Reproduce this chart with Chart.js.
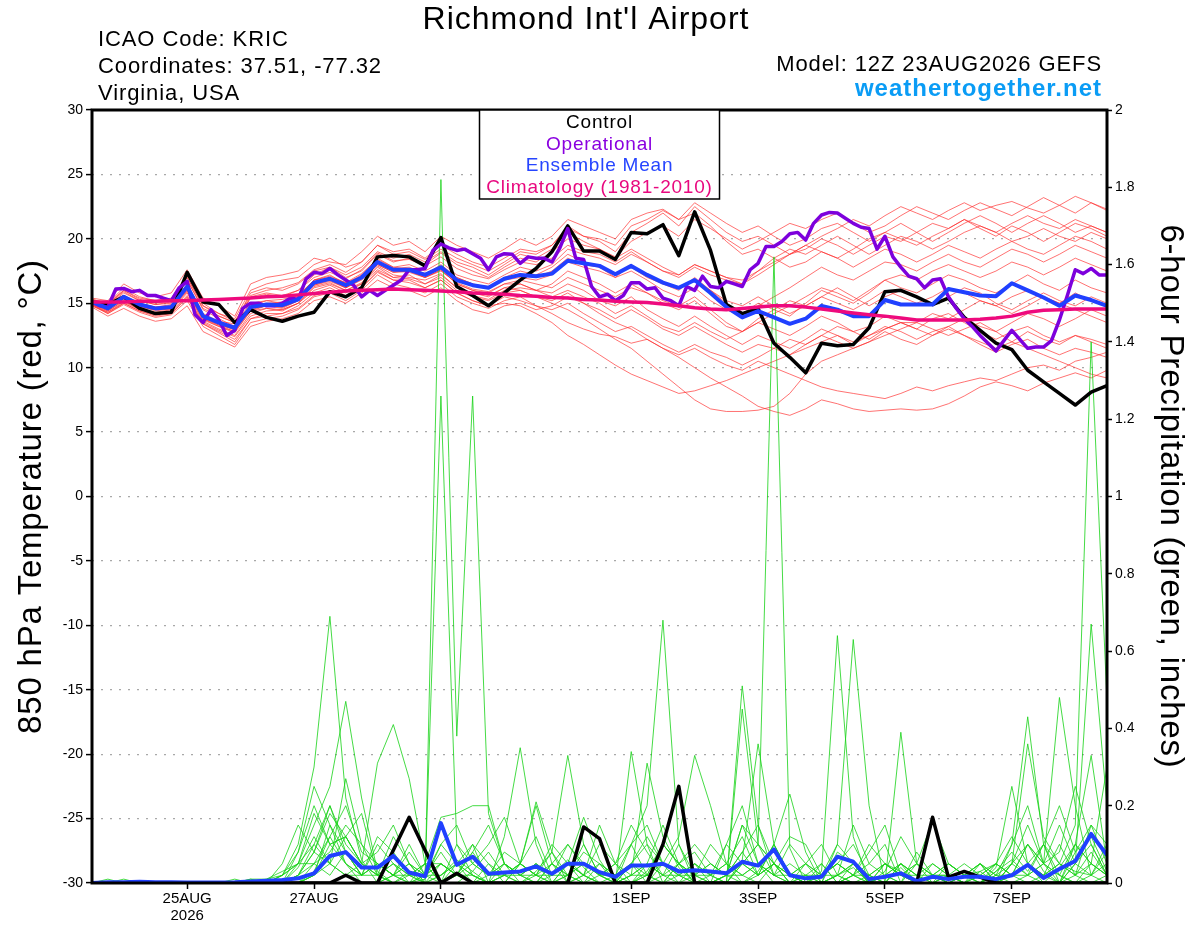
<!DOCTYPE html>
<html>
<head>
<meta charset="utf-8">
<title>Richmond Int'l Airport - GEFS</title>
<script src="https://cdn.jsdelivr.net/npm/chart.js@4.4.1/dist/chart.umd.min.js"></script>
<style>
    html, body { margin: 0; padding: 0; background: #fff; }
    #wrap { width: 1200px; height: 927px; }
</style>
</head>
<body>
<div id="wrap"><canvas id="gefs-chart" width="1200" height="927"></canvas></div>
<script>
"use strict";

// Forecast lead time (hours after 12Z 23AUG2026), 6-hourly
const leadHours = [0, 6, 12, 18, 24, 30, 36, 42, 48, 54, 60, 66, 72, 78, 84, 90, 96, 102, 108, 114, 120, 126,
    132, 138, 144, 150, 156, 162, 168, 174, 180, 186, 192, 198, 204, 210, 216, 222, 228, 234, 240, 246, 252,
    258, 264, 270, 276, 282, 288, 294, 300, 306, 312, 318, 324, 330, 336, 342, 348, 354, 360, 366, 372, 378, 384];

// Date ticks on the time axis
const dateTickHours = [36, 84, 132, 204, 252, 300, 348];
const dateTickLabels = ['25AUG', '27AUG', '29AUG', '1SEP', '3SEP', '5SEP', '7SEP'];
const yearLabel = '2026';

// 850 hPa temperature (C)
const controlTemp = [
    15.1, 14.9, 15.5, 14.6, 14.2, 14.3, 17.4, 15.1, 14.9, 13.5, 14.5, 13.9, 13.6,
    14.0, 14.3, 15.9, 15.5, 16.2, 18.6, 18.7, 18.6, 17.9, 20.1, 16.3, 15.6, 14.8,
    15.8, 16.8, 17.7, 19.0, 21.0, 19.05, 19.05, 18.4, 20.5, 20.4, 21.1, 18.7, 22.1,
    19.1, 14.9, 14.2, 14.6, 11.9, 10.8, 9.6, 11.9, 11.7, 11.8, 13.1, 15.9, 16.0,
    15.5, 14.9, 15.4, 13.9, 12.9, 11.9, 11.4, 9.8, 8.9, 8.0, 7.1, 8.1, 8.6
];

// operational run is 3-hourly
const operationalTemp = [
    15.1, 14.8, 14.7, 16.1, 16.15, 15.9, 16.0, 15.6,
    15.6, 15.4, 15.2, 16.2, 16.7, 14.1, 13.5, 14.5,
    13.7, 12.5, 12.9, 14.6, 15.0, 15.0, 14.8, 14.8,
    15.0, 15.4, 15.3, 16.9, 17.4, 17.3, 17.7, 17.2,
    16.8, 16.4, 15.5, 16.0, 15.6, 16.0, 16.4, 16.8,
    17.6, 17.6, 17.7, 19.1, 19.6, 19.3, 19.1, 19.2,
    18.85, 18.5, 17.6, 18.6, 18.85, 18.8, 18.1, 18.6,
    18.5, 18.5, 18.2, 19.3, 20.8, 18.5, 18.4, 16.3,
    15.5, 15.7, 15.2, 15.6, 16.6, 16.6, 16.1, 16.2,
    15.4, 15.2, 14.8, 16.3, 16.0, 17.1, 16.3, 16.2,
    16.7, 16.5, 16.3, 17.6, 18.1, 19.4, 19.4, 19.8,
    20.4, 20.5, 19.9, 21.2, 21.85, 22.05, 22.0, 21.6,
    21.2, 20.9, 20.8, 19.2, 20.2, 18.6, 17.8, 17.1,
    16.9, 16.2, 16.8, 16.9, 15.5, 14.6, 13.8, 13.2,
    12.5, 11.9, 11.3, 12.1, 12.9, 12.2, 11.5, 11.6,
    11.6, 12.1, 13.7, 15.6, 17.6, 17.3, 17.7, 17.2,
    17.2
];

const meanTemp = [
    15.1, 14.6, 15.5, 14.9, 14.6, 14.7, 16.3, 14.0, 13.5, 13.1, 14.7, 14.9, 14.85,
    15.3, 16.6, 16.9, 16.4, 17.0, 18.2, 17.6, 17.6, 17.2, 17.8, 16.8, 16.4, 16.2,
    16.9, 17.2, 17.1, 17.3, 18.3, 18.1, 17.9, 17.25, 17.9, 17.2, 16.6, 16.2, 16.8,
    15.8, 14.7, 13.9, 14.4, 13.9, 13.4, 13.8, 14.8, 14.5, 14.0, 14.0, 15.25, 14.9,
    14.9, 14.9, 16.1, 15.85, 15.6, 15.55, 16.55, 16.0, 15.45, 14.8, 15.6, 15.25, 14.8
];

const climoTemp = [
    15.1, 15.1, 15.1, 15.15, 15.15, 15.2, 15.2, 15.25, 15.3, 15.35, 15.4, 15.5, 15.55,
    15.65, 15.75, 15.85, 15.95, 16.0, 16.05, 16.1, 16.05, 16.0, 15.95, 15.9, 15.8, 15.75,
    15.7, 15.6, 15.55, 15.45, 15.4, 15.3, 15.25, 15.15, 15.1, 15.05, 14.95, 14.8, 14.65,
    14.55, 14.5, 14.6, 14.7, 14.8, 14.8, 14.7, 14.55, 14.4, 14.25, 14.1, 14.0, 13.85,
    13.7, 13.7, 13.7, 13.7, 13.75, 13.85, 14.0, 14.3, 14.45, 14.5, 14.55, 14.55, 14.55
];

// ensemble members
const memberTemps = [
    [15.2, 14.8, 15.8, 15.2, 14.9, 15.0, 16.8, 14.5, 13.8, 13.2, 15.5, 15.8, 15.6,
     16.0, 17.2, 17.8, 17.0, 17.5, 18.8, 18.2, 18.5, 18.0, 18.9, 18.0, 17.5, 17.0,
     17.8, 18.5, 18.2, 19.0, 20.0, 19.5, 19.2, 18.6, 19.8, 20.5, 21.0, 20.2, 21.5,
     20.8, 20.0, 19.2, 19.8, 20.5, 21.2, 20.8, 21.5, 22.0, 21.2, 20.5, 21.0, 21.8,
     22.5, 22.0, 21.5, 22.2, 22.8, 22.3, 21.8, 22.5, 23.2, 22.6, 22.0, 22.8, 22.3],
    [15.0, 14.4, 15.2, 14.6, 14.2, 14.4, 15.8, 13.6, 13.0, 12.5, 14.2, 14.6, 14.4,
     15.0, 16.2, 16.5, 16.0, 16.5, 17.8, 17.0, 17.2, 16.5, 17.0, 16.0, 15.5, 15.2,
     15.8, 16.0, 15.5, 15.0, 14.5, 13.8, 13.0, 12.2, 11.5, 10.5, 9.5, 8.5, 7.5,
     6.8, 6.6, 6.6, 6.7, 7.0, 8.0, 9.5, 10.5, 11.0, 11.5, 12.0, 12.5, 13.0,
     13.5, 13.0, 12.5, 13.0, 13.5, 12.8, 12.0, 11.5, 11.0, 10.5, 10.0, 9.5, 9.2],
    [14.8, 14.2, 14.9, 14.3, 13.9, 14.1, 15.2, 13.2, 12.5, 11.8, 13.5, 13.8, 14.0,
     14.5, 15.5, 15.8, 15.2, 16.0, 17.2, 16.5, 16.2, 15.8, 16.5, 15.5, 15.0, 14.6,
     15.2, 15.5, 14.8, 14.2, 13.5, 13.0, 12.6, 12.4, 11.9, 12.2, 11.5, 10.8, 10.0,
     9.2, 8.5, 7.8, 7.0, 6.6, 6.3, 6.8, 7.5, 7.2, 6.8, 6.6, 6.7, 6.8,
     6.7, 6.8, 7.2, 7.8, 8.5, 8.9, 8.6, 8.2, 8.8, 9.2, 9.6, 9.2, 9.8],
    [15.3, 15.0, 16.2, 15.5, 15.2, 15.4, 17.2, 15.0, 14.2, 13.8, 16.0, 16.5, 16.8,
     17.0, 18.0, 18.5, 17.8, 18.2, 19.5, 19.0, 19.2, 18.5, 19.5, 18.8, 18.2, 17.8,
     18.5, 19.2, 19.0, 19.5, 21.0, 20.2, 19.8, 19.0, 20.5, 21.2, 22.0, 21.0, 22.5,
     21.5, 20.5, 19.8, 20.2, 19.5, 18.8, 19.2, 20.0, 19.5, 18.8, 19.5, 20.2, 19.8,
     20.5, 21.2, 20.8, 21.5, 20.8, 20.2, 21.0, 20.5, 19.8, 20.5, 21.2, 20.8, 20.2],
    [15.1, 14.5, 15.4, 14.8, 14.4, 14.6, 16.1, 13.9, 13.4, 12.9, 14.5, 14.8, 14.6,
     15.2, 16.5, 16.8, 16.2, 16.8, 18.0, 17.4, 17.5, 17.0, 17.6, 16.5, 16.0, 15.8,
     16.5, 16.8, 16.5, 16.2, 17.0, 16.5, 16.0, 15.5, 16.2, 15.8, 15.2, 14.8, 15.5,
     14.5, 13.5, 12.8, 13.5, 13.0, 12.5, 13.2, 14.0, 13.5, 12.8, 13.2, 14.0, 13.5,
     13.0, 13.8, 14.2, 13.5, 12.8, 12.2, 12.8, 13.2, 12.5, 12.0, 12.5, 12.2, 11.8],
    [14.9, 14.3, 15.0, 14.4, 14.0, 14.2, 15.5, 13.4, 12.8, 12.2, 13.8, 14.2, 14.2,
     14.8, 15.8, 16.2, 15.6, 16.2, 17.5, 16.8, 16.8, 16.2, 16.8, 15.8, 15.2, 14.8,
     15.0, 14.8, 14.2, 13.5, 12.5, 11.8, 11.0, 10.2, 9.5, 9.0, 8.5, 8.0, 8.2,
     8.6, 9.0, 9.5, 10.0, 10.5, 11.0, 11.5, 12.0, 12.5, 12.0, 12.5, 13.0, 13.5,
     13.5, 14.2, 13.8, 14.5, 15.2, 14.8, 14.2, 14.8, 15.5, 15.0, 14.5, 14.0, 13.5],
    [15.4, 15.2, 16.5, 15.8, 15.5, 15.8, 17.6, 15.4, 14.8, 14.0, 16.5, 17.0, 17.2,
     17.5, 18.5, 18.2, 18.0, 19.0, 20.2, 19.5, 19.8, 19.0, 20.2, 19.5, 19.0, 18.5,
     19.2, 20.0, 19.5, 20.2, 21.5, 21.0, 20.5, 20.0, 21.5, 22.0, 22.3, 21.5, 22.8,
     22.0, 21.2, 20.5, 21.0, 20.2, 19.5, 20.0, 20.8, 21.2, 20.5, 19.8, 20.5, 21.2,
     20.5, 19.8, 20.5, 21.2, 21.8, 21.2, 20.5, 21.2, 21.8, 21.2, 20.5, 21.0, 20.5],
    [14.9, 14.4, 15.2, 14.5, 14.3, 14.5, 15.9, 13.7, 13.2, 12.7, 14.4, 14.6, 14.5,
     15.0, 16.3, 16.6, 16.0, 16.6, 17.9, 17.2, 17.0, 16.8, 17.3, 16.2, 15.8, 15.5,
     16.2, 16.5, 16.0, 15.8, 16.5, 16.0, 15.2, 14.8, 15.5, 14.5, 13.8, 13.2, 14.0,
     13.2, 12.5, 11.8, 12.5, 12.0, 11.5, 12.2, 13.0, 12.5, 11.8, 12.5, 13.2, 12.8,
     12.2, 12.8, 13.2, 12.5, 11.8, 11.2, 11.8, 12.2, 11.5, 11.0, 11.5, 11.2, 10.8],
    [15.0, 14.6, 15.6, 15.0, 14.7, 14.8, 16.5, 14.2, 13.6, 13.4, 15.0, 15.2, 15.0,
     15.5, 16.8, 17.2, 16.5, 17.2, 18.5, 17.8, 17.6, 17.2, 18.0, 17.0, 16.5, 16.2,
     17.0, 17.5, 17.2, 17.8, 18.8, 18.2, 17.8, 17.0, 18.0, 17.2, 16.5, 16.0, 17.0,
     16.0, 15.0, 14.2, 15.0, 14.5, 14.0, 15.0, 16.0, 15.5, 15.0, 15.8, 16.8, 16.2,
     15.8, 16.5, 17.2, 16.8, 16.2, 15.8, 16.5, 17.2, 16.5, 16.0, 16.8, 16.2, 15.8],
    [15.2, 14.7, 15.5, 14.9, 14.6, 14.6, 16.2, 14.0, 13.4, 13.0, 14.6, 14.9, 14.9,
     15.4, 16.6, 17.0, 16.4, 17.0, 18.2, 17.6, 17.7, 17.3, 17.8, 16.9, 16.4, 16.3,
     16.8, 17.0, 16.8, 17.2, 18.2, 17.8, 17.5, 17.0, 17.5, 16.8, 16.0, 15.5, 16.2,
     15.2, 14.5, 14.0, 14.8, 15.5, 16.2, 17.0, 17.8, 17.2, 16.8, 17.5, 18.2, 18.0,
     17.5, 18.2, 18.8, 18.2, 17.8, 18.5, 19.2, 18.8, 18.2, 18.8, 19.5, 19.0, 18.5],
    [14.7, 14.0, 14.6, 14.0, 13.6, 13.8, 14.8, 12.8, 12.2, 11.6, 13.2, 13.6, 13.8,
     14.2, 15.2, 15.5, 15.0, 15.8, 16.8, 16.2, 16.0, 15.5, 16.2, 15.2, 14.5, 14.2,
     14.8, 15.0, 14.5, 14.8, 15.5, 15.0, 14.5, 13.8, 14.5, 13.8, 13.0, 12.5, 13.2,
     12.5, 11.8, 11.2, 11.8, 11.5, 11.0, 11.8, 12.5, 12.0, 11.5, 12.0, 12.8, 12.2,
     11.8, 12.5, 13.0, 12.5, 12.0, 11.5, 12.0, 12.8, 12.2, 11.8, 12.5, 12.0, 11.5],
    [15.1, 14.9, 16.0, 15.3, 15.0, 15.2, 17.0, 14.8, 14.0, 13.5, 15.8, 16.2, 16.0,
     16.5, 17.5, 17.8, 17.2, 17.8, 19.0, 18.5, 18.8, 18.2, 19.0, 18.2, 17.8, 17.2,
     18.0, 18.8, 18.5, 19.2, 20.5, 19.8, 19.2, 18.5, 19.2, 18.5, 17.8, 17.2, 18.0,
     17.5, 17.0, 16.5, 17.5, 18.5, 19.2, 18.8, 19.5, 20.2, 19.5, 18.8, 19.5, 20.2,
     19.8, 19.2, 19.8, 20.5, 21.0, 20.5, 19.8, 20.2, 20.8, 20.2, 19.8, 20.5, 20.0],
    [15.0, 14.5, 15.3, 14.7, 14.5, 14.7, 16.0, 13.8, 13.3, 12.8, 14.8, 15.2, 15.3,
     15.6, 16.8, 17.0, 16.6, 17.3, 18.4, 17.8, 18.0, 17.5, 18.2, 17.2, 16.8, 16.5,
     17.2, 17.8, 17.5, 18.0, 19.2, 18.8, 18.5, 18.0, 18.8, 18.2, 17.5, 17.0, 17.8,
     17.2, 16.8, 16.5, 17.2, 18.0, 18.8, 19.5, 20.2, 20.8, 21.5, 21.0, 21.8, 22.5,
     22.0, 21.5, 22.2, 22.8, 22.2, 22.6, 22.9, 22.4, 22.0, 22.6, 23.3, 22.8, 22.2],
    [14.8, 14.3, 15.1, 14.5, 14.2, 14.3, 15.6, 13.5, 12.9, 12.4, 14.0, 14.4, 14.5,
     15.0, 16.0, 16.4, 15.8, 16.5, 17.6, 17.0, 16.9, 16.5, 17.2, 16.2, 15.6, 15.3,
     16.0, 16.2, 16.0, 16.5, 17.5, 17.0, 16.5, 15.8, 16.5, 15.8, 15.0, 14.5, 15.2,
     14.2, 13.2, 12.8, 13.8, 14.5, 15.2, 14.8, 15.5, 16.2, 15.5, 14.8, 15.5, 16.0,
     15.5, 14.8, 15.5, 16.2, 15.8, 15.0, 14.5, 15.2, 15.8, 15.2, 14.8, 15.5, 15.0],
    [15.0, 14.5, 15.4, 14.8, 14.5, 14.5, 16.0, 13.8, 13.2, 12.8, 14.4, 14.8, 14.7,
     15.2, 16.4, 16.8, 16.2, 16.9, 18.1, 17.5, 17.4, 17.0, 17.6, 16.5, 16.0, 15.6,
     16.2, 16.0, 15.5, 15.2, 15.8, 15.0, 14.2, 13.5, 13.0, 12.2, 11.5, 11.0, 11.5,
     10.8, 10.2, 9.8, 10.5, 10.0, 9.5, 9.0, 8.5, 8.2, 8.0, 7.8, 7.6, 8.0,
     8.5, 8.2, 8.6, 8.9, 9.2, 9.0, 9.5, 10.0, 10.2, 9.8, 10.5, 10.8, 11.2],
    [15.3, 15.0, 16.0, 15.4, 15.2, 15.3, 17.0, 14.8, 14.2, 13.6, 15.6, 16.0, 16.2,
     16.6, 17.6, 18.0, 17.4, 18.2, 19.5, 18.8, 19.0, 18.4, 19.2, 18.5, 18.0, 17.5,
     18.2, 19.0, 18.8, 19.5, 20.8, 20.2, 20.0, 19.5, 21.0, 21.5, 22.2, 21.5, 22.0,
     21.0, 19.8, 18.8, 19.2, 18.5, 17.8, 18.2, 19.0, 18.5, 17.8, 18.5, 19.2, 18.8,
     18.2, 18.8, 19.5, 19.0, 18.5, 19.2, 19.8, 19.2, 18.8, 19.5, 20.2, 19.8, 19.2],
    [15.1, 14.7, 15.6, 15.0, 14.7, 14.9, 16.4, 14.1, 13.5, 13.2, 14.8, 15.0, 15.1,
     15.6, 16.8, 17.1, 16.6, 17.1, 18.3, 17.7, 17.8, 17.3, 17.9, 17.0, 16.5, 16.2,
     16.8, 17.2, 17.0, 17.5, 18.5, 18.0, 17.8, 17.2, 17.8, 17.0, 16.5, 16.2, 16.8,
     16.0, 15.2, 14.8, 15.5, 14.8, 14.2, 14.8, 15.5, 15.0, 14.5, 15.2, 16.0, 15.5,
     15.0, 15.5, 16.2, 15.8, 15.2, 14.8, 15.5, 16.0, 15.5, 15.0, 15.8, 15.2, 14.8],
    [14.9, 14.2, 15.0, 14.4, 14.1, 14.2, 15.4, 13.4, 12.7, 12.0, 13.8, 14.0, 14.2,
     14.6, 15.6, 16.0, 15.5, 16.2, 17.4, 16.8, 16.6, 16.2, 16.8, 15.8, 15.2, 14.8,
     15.5, 15.2, 14.8, 14.5, 15.0, 14.2, 13.5, 12.8, 13.2, 12.5, 11.8, 11.2, 11.8,
     11.2, 10.8, 10.2, 10.8, 11.5, 12.2, 11.8, 12.5, 13.2, 12.8, 12.2, 13.0, 13.5,
     13.0, 12.5, 13.2, 13.8, 13.2, 12.8, 13.5, 14.2, 13.8, 13.2, 13.8, 14.5, 14.0],
    [15.2, 14.9, 15.9, 15.2, 14.9, 15.1, 16.8, 14.6, 14.0, 13.5, 15.4, 15.7, 15.5,
     16.0, 17.0, 17.4, 16.9, 17.6, 18.9, 18.3, 18.4, 17.9, 18.6, 17.7, 17.2, 16.9,
     17.6, 18.2, 18.0, 18.5, 19.5, 19.0, 18.8, 18.2, 19.0, 18.2, 17.5, 17.2, 18.0,
     17.5, 17.0, 16.8, 17.5, 18.2, 18.8, 19.5, 19.0, 18.5, 19.2, 20.0, 20.5, 20.0,
     19.5, 20.2, 20.8, 21.5, 21.0, 20.5, 21.2, 21.8, 21.2, 20.8, 21.5, 21.0, 20.5],
    [15.0, 14.6, 15.5, 14.8, 14.5, 14.7, 16.1, 13.9, 13.3, 13.0, 14.6, 14.8, 14.7,
     15.2, 16.4, 16.7, 16.2, 16.9, 18.0, 17.4, 17.5, 17.0, 17.5, 16.6, 16.1, 15.9,
     16.5, 16.5, 16.0, 15.5, 16.0, 15.5, 15.0, 14.2, 14.8, 14.0, 13.2, 12.8, 13.5,
     12.8, 12.2, 12.8, 13.5, 14.2, 14.8, 15.5, 16.2, 15.8, 15.2, 16.0, 16.8, 17.2,
     16.8, 17.5, 18.0, 17.5, 17.0, 17.5, 18.2, 17.8, 17.2, 17.8, 18.5, 18.0, 17.5]
];

// 6-hour precipitation (inches)
const controlPrecip = [
    0, 0, 0, 0, 0, 0, 0, 0, 0, 0, 0, 0, 0,
    0, 0, 0, 0.02, 0, 0, 0.085, 0.17, 0.085, 0, 0.025, 0, 0,
    0, 0, 0, 0, 0, 0.145, 0.115, 0, 0, 0, 0.1, 0.25, 0,
    0, 0, 0, 0, 0, 0, 0, 0, 0, 0, 0, 0, 0,
    0, 0.17, 0.015, 0.03, 0.015, 0, 0, 0, 0, 0, 0, 0, 0
];

const meanPrecip = [
    0, 0.002, 0.002, 0.003, 0.002, 0.002, 0.001, 0.001, 0.001, 0.002, 0.004, 0.006, 0.008,
    0.012, 0.025, 0.07, 0.08, 0.04, 0.04, 0.07, 0.027, 0.017, 0.155, 0.047, 0.068, 0.024,
    0.027, 0.03, 0.043, 0.024, 0.05, 0.05, 0.028, 0.016, 0.045, 0.045, 0.05, 0.03, 0.033,
    0.03, 0.025, 0.055, 0.045, 0.087, 0.02, 0.012, 0.016, 0.068, 0.055, 0.01, 0.016, 0.025,
    0.005, 0.016, 0.01, 0.016, 0.016, 0.01, 0.02, 0.047, 0.013, 0.036, 0.057, 0.127, 0.072
];

const memberPrecip = [
    [0,0,0,0,0,0,0,0,0,0,0, 0,0.02,0.1,0.3,0.69,0.22,0.06,0,0.02,0.08,0.02, 0,0,0.03,0.08,0.02,0,0,0.05,0.1,0.04,0, 0,0,0,0.05,0.02,0,0,0.1,0.2,0.05,0, 0,0,0.03,0.64,0.12,0,0,0.04,0,0,0.02, 0,0,0.03,0.06,0.02,0,0.04,0.1,0.05,0.02],
    [0,0,0,0,0,0,0,0,0,0,0.01, 0,0,0.05,0.15,0.25,0.47,0.22,0.03,0,0,0.01, 0.1,0.05,0,0,0.12,0.35,0.1,0,0,0.02,0, 0,0.34,0.1,0,0.05,0.02,0,0,0.51,0.15,0.02, 0,0,0,0,0.05,0.02,0,0,0.08,0.02,0, 0,0,0,0.02,0.1,0.05,0.48,0.2,0.02,0],
    [0,0,0,0,0,0,0,0,0,0,0, 0,0,0,0.02,0.1,0.12,0.05,0.31,0.41,0.27,0.05, 0,0.02,0.1,0,0,0,0.03,0.08,0.02,0,0, 0,0,0.03,0.1,0.05,0,0,0.02,0.15,0.1,1.62, 0.09,0,0,0.02,0,0,0.05,0.03,0,0,0, 0.02,0.03,0,0.1,0.43,0.1,0,0.05,0.67,0.2],
    [0,0,0,0,0,0,0,0,0,0,0, 0,0,0,0.03,0.12,0.05,0,0,0.02,0.05,0, 1.82,0.38,1.26,0.18,0.05,0,0,0.02,0.06,0.02,0, 0,0,0.02,0.1,0.05,0,0,0,0.06,0.36,0.1, 0.02,0,0,0.1,0.63,0.2,0,0,0,0.02,0, 0,0,0.04,0.25,0.05,0,0,0.1,0.33,0.05],
    [0,0,0,0,0,0,0,0,0,0,0, 0,0,0.02,0.08,0.2,0.1,0.05,0.02,0,0,0.02, 1.26,0.1,0.02,0,0,0.05,0.21,0.08,0,0,0, 0,0.02,0.31,0.12,0.04,0,0,0,0.45,0.1,0.05, 0,0,0,0.02,0.04,0,0,0.39,0.05,0,0, 0,0,0,0.05,0.36,0.12,0.05,0.15,1.4,0.47],
    [0,0,0,0,0,0,0,0,0,0,0, 0,0,0,0.02,0.15,0.08,0.02,0.1,0.05,0,0, 0.05,0.02,0.08,0.15,0.05,0.02,0,0,0.05,0.17,0.06, 0,0.1,0.2,0.68,0.1,0,0,0.02,0.08,0.02,0.1, 0.23,0.08,0,0,0.02,0.05,0.1,0,0,0,0.02, 0,0,0,0.05,0.1,0.03,0,0.08,0.12,0.03],
    [0,0,0.01,0,0,0,0,0,0,0,0, 0,0,0.04,0.12,0.05,0.27,0.1,0.02,0,0.03,0, 0.02,0.06,0.03,0,0.02,0.05,0.02,0.08,0.33,0.1,0.02, 0,0.05,0.1,0.05,0.12,0.33,0.2,0.05,0,0.03,0.1, 0.02,0,0.05,0,0.02,0.08,0.15,0.02,0,0.05,0.02, 0,0,0.03,0.08,0.03,0.1,0.2,0.08,0.15,0.1],
    [0,0,0,0,0,0,0,0,0,0,0.01, 0.01,0.03,0.05,0.18,0.1,0.05,0.02,0.12,0.08,0.02,0, 0,0.1,0.05,0.02,0.08,0.05,0.2,0.05,0,0.02,0.1, 0.05,0.15,0.08,0.02,0,0.05,0.02,0,0.05,0.1,0.02, 0.05,0.02,0,0.08,0.05,0,0.03,0.12,0.05,0.16,0.05, 0.02,0.05,0,0.02,0.05,0.1,0.02,0,0.05,0.02],
    [0,0,0,0,0,0,0,0,0,0,0, 0,0.02,0.08,0.2,0.1,0.12,0.05,0.08,0.15,0.05,0.02, 0.1,0.15,0.05,0.1,0.17,0.05,0.02,0,0.05,0.02,0.15, 0.05,0.1,0.02,0,0.05,0.1,0.05,0.02,0.15,0.05,0.02, 0.1,0.05,0,0.02,0.15,0.05,0.02,0,0,0.02,0.05, 0.02,0,0.02,0.05,0.15,0.05,0.08,0.25,0.1,0.02],
    [0,0,0,0,0,0,0,0,0,0,0, 0,0,0.02,0.05,0.08,0.15,0.1,0.05,0.02,0,0.05, 0.17,0.18,0.2,0.2,0.05,0.02,0.05,0,0.02,0.08,0.05, 0.02,0.05,0.12,0.05,0.02,0.05,0.02,0.1,0.05,0.02,0.05, 0.12,0.1,0.02,0.05,0.02,0,0.05,0.02,0.05,0.02,0, 0,0.03,0.05,0.12,0.05,0.02,0.05,0.03,0.02,0.08],
    [0,0.01,0,0,0,0,0,0,0,0,0, 0,0,0.08,0.25,0.15,0.05,0.02,0.02,0.12,0.05,0, 0,0.05,0.02,0,0.05,0.02,0,0.05,0.02,0.1,0.02, 0,0.02,0.05,0.15,0.05,0.02,0.1,0.05,0.02,0.05,0.02, 0,0.05,0.02,0.05,0.1,0.02,0,0.05,0.02,0,0.05, 0.02,0,0.02,0.1,0.2,0.05,0.02,0.1,0.05,0.3],
    [0,0,0,0,0,0,0,0,0,0.01,0, 0,0.05,0.15,0.08,0.18,0.12,0.05,0.02,0.05,0.02,0.05, 0.05,0.02,0.08,0.02,0.02,0.05,0.12,0.02,0.05,0.02,0, 0.02,0.1,0.15,0.05,0.02,0,0.02,0.05,0.12,0.02,0.05, 0.02,0,0.02,0.05,0.02,0.1,0.05,0.02,0.02,0.05,0.02, 0,0.05,0.02,0.02,0.1,0.05,0.15,0.05,0.02,0.1],
    [0,0,0,0,0,0,0,0,0,0,0, 0.01,0.02,0.05,0.1,0.2,0.08,0.02,0.05,0.02,0.1,0.02, 0.02,0.05,0.1,0.05,0,0.05,0.02,0.1,0.05,0.02,0.05, 0,0.05,0.02,0.1,0.05,0.08,0.02,0,0.05,0.1,0.05, 0.02,0.05,0.1,0.02,0.05,0,0.02,0.05,0,0.02,0.05, 0.02,0.05,0,0.05,0.02,0.1,0.05,0.02,0.15,0.05],
    [0,0,0,0,0,0,0,0,0,0,0, 0,0,0.02,0.08,0.05,0.12,0.18,0.02,0.05,0.02,0.02, 0.08,0.02,0.05,0.02,0.05,0.02,0.05,0.02,0.1,0.05,0.02, 0.05,0.02,0.05,0.02,0.1,0.02,0.05,0.02,0.05,0.02,0.1, 0.02,0.05,0.02,0.1,0.05,0.02,0.05,0.02,0.05,0.02,0.02, 0.05,0.02,0.05,0.02,0.05,0.02,0.1,0.02,0.08,0.02],
    [0,0,0,0,0,0,0,0,0,0,0, 0,0,0,0.05,0.12,0.2,0.08,0.05,0.02,0,0.02, 0.05,0.02,0,0.02,0.05,0.02,0.02,0,0.02,0.05,0.02, 0,0.02,0.02,0.05,0,0.02,0.05,0.02,0.08,0.15,0.05, 0,0.02,0.02,0.05,0.02,0,0.02,0.05,0.02,0,0.02, 0,0.02,0,0.02,0.05,0.02,0,0.05,0.1,0.02],
    [0,0,0,0,0,0,0,0,0,0,0, 0,0,0.02,0.1,0.05,0.02,0.02,0.05,0.02,0.05,0.02, 0.05,0.02,0.02,0,0.02,0.02,0.05,0.02,0.02,0.05,0.02, 0.02,0,0.05,0.02,0.02,0.02,0,0.02,0.02,0.05,0.02, 0.02,0,0.02,0.02,0,0.02,0.05,0.02,0,0.02,0.02, 0,0.02,0.05,0.02,0.02,0.05,0.02,0,0.02,0.05],
    [0,0,0,0,0,0,0,0,0,0,0, 0,0.02,0.05,0.05,0.02,0.08,0.02,0.05,0.02,0.02,0, 0.02,0.05,0.02,0,0.02,0.05,0.02,0.05,0.02,0,0.05, 0.02,0.05,0,0.02,0.05,0.02,0.02,0.05,0.02,0,0.05, 0.02,0.02,0.05,0,0.02,0.02,0,0.05,0.02,0.02,0, 0.02,0.05,0.02,0,0.02,0.05,0,0.02,0.05,0.02],
    [0,0,0,0,0,0,0,0,0,0,0, 0,0,0,0.02,0.05,0.02,0.05,0.02,0,0.02,0.05, 0,0.02,0,0.05,0.02,0,0.02,0.02,0.05,0,0.02, 0.05,0,0.02,0,0.02,0.05,0,0.02,0,0.02,0.05, 0,0.02,0,0.02,0.05,0,0.02,0,0.05,0.02,0, 0.02,0,0.05,0.02,0,0.02,0.05,0.02,0,0.02]
];

const legendItems = [
    { text: 'Control', color: '#000000' },
    { text: 'Operational', color: '#8a00e0' },
    { text: 'Ensemble Mean', color: '#2645ff' },
    { text: 'Climatology (1981-2010)', color: '#e8087f' }
];

const FONT = '"Liberation Sans", Arial, Helvetica, sans-serif';

// pair each value with its forecast hour
function toPoints(hours, values) {
    return values.map(function (v, i) {
        return { x: hours[i], y: v };
    });
}

const opHours = operationalTemp.map(function (v, i) { return i * 3; });

const datasets = [];

// Temperature members
memberTemps.forEach(function (m) {
    datasets.push({
        data: toPoints(leadHours, m), yAxisID: 'y',
        borderColor: 'rgba(255, 45, 45, 0.75)', borderWidth: 0.9, order: 9
    });
});

// Precipitation members
memberPrecip.forEach(function (m) {
    datasets.push({
        data: toPoints(leadHours, m), yAxisID: 'y2',
        borderColor: 'rgba(25, 210, 25, 0.9)', borderWidth: 0.9, order: 8
    });
});

datasets.push({
    data: toPoints(leadHours, controlPrecip), yAxisID: 'y2',
    borderColor: '#000', borderWidth: 3.5, order: 7
});
datasets.push({
    data: toPoints(leadHours, meanPrecip), yAxisID: 'y2',
    borderColor: '#2040ff', borderWidth: 4, order: 6
});
datasets.push({
    data: toPoints(leadHours, controlTemp), yAxisID: 'y',
    borderColor: '#000', borderWidth: 3.5, order: 5
});
datasets.push({
    data: toPoints(opHours, operationalTemp), yAxisID: 'y',
    borderColor: '#7d00dc', borderWidth: 3.5, order: 4
});
datasets.push({
    data: toPoints(leadHours, meanTemp), yAxisID: 'y',
    borderColor: '#2040ff', borderWidth: 4, order: 3
});
datasets.push({
    data: toPoints(leadHours, climoTemp), yAxisID: 'y',
    borderColor: '#ee0a7d', borderWidth: 3.5, order: 2
});

// Frame, header texts, legend box and axis titles
const decorPlugin = {
    id: 'decor',
    afterDraw: function (chart) {
        const ctx = chart.ctx;
        const a = chart.chartArea;
        const midX = (a.left + a.right) / 2;
        const midY = (a.top + a.bottom) / 2;

        ctx.save();
        ctx.strokeStyle = '#000';
        ctx.lineWidth = 3;
        ctx.strokeRect(a.left, a.top, a.right - a.left, a.bottom - a.top);

        // title
        ctx.fillStyle = '#000';
        ctx.textBaseline = 'alphabetic';
        ctx.textAlign = 'center';
        ctx.letterSpacing = '1px';
        ctx.font = '32px ' + FONT;
        ctx.fillText("Richmond Int'l Airport", 586, 29);

        // station info
        ctx.textAlign = 'left';
        ctx.letterSpacing = '0.9px';
        ctx.font = '22px ' + FONT;
        ctx.fillText('ICAO Code: KRIC', 98, 46);
        ctx.fillText('Coordinates: 37.51, -77.32', 98, 73);
        ctx.fillText('Virginia, USA', 98, 100);

        ctx.textAlign = 'right';
        ctx.fillText('Model: 12Z 23AUG2026 GEFS', 1102, 71);
        ctx.fillStyle = '#0a9cf5';
        ctx.letterSpacing = '1px';
        ctx.font = 'bold 24px ' + FONT;
        ctx.fillText('weathertogether.net', 1102, 96);

        // legend box
        const boxW = 240, boxH = 89;
        const boxX = midX - boxW / 2;
        ctx.fillStyle = '#fff';
        ctx.fillRect(boxX, a.top, boxW, boxH);
        ctx.lineWidth = 1.5;
        ctx.strokeStyle = '#000';
        ctx.strokeRect(boxX, a.top, boxW, boxH);
        ctx.textAlign = 'center';
        ctx.letterSpacing = '0.8px';
        ctx.font = '19px ' + FONT;
        legendItems.forEach(function (item, i) {
            ctx.fillStyle = item.color;
            ctx.fillText(item.text, midX, a.top + 18 + i * 21.5);
        });

        // axis titles
        ctx.fillStyle = '#000';
        ctx.font = '33px ' + FONT;
        ctx.textBaseline = 'middle';
        ctx.save();
        ctx.translate(32, midY);
        ctx.rotate(-Math.PI / 2);
        ctx.fillText('850 hPa Temperature (red, \u00b0C)', 0, 0);
        ctx.restore();
        ctx.save();
        ctx.translate(1170, midY);
        ctx.rotate(Math.PI / 2);
        ctx.fillText('6-hour Precipitation (green, inches)', 0, 0);
        ctx.restore();

        ctx.restore();
    }
};

Chart.defaults.font.family = FONT;
Chart.defaults.color = '#000';

const ctx = document.getElementById('gefs-chart').getContext('2d');
new Chart(ctx, {
    type: 'line',
    data: { datasets: datasets },
    options: {
        responsive: false,
        animation: false,
        events: [],
        layout: { padding: { top: 110, left: 0, right: 0, bottom: 0 } },
        elements: {
            point: { radius: 0 },
            line: { tension: 0, fill: false, borderJoinStyle: 'round' }
        },
        plugins: {
            legend: { display: false },
            tooltip: { enabled: false }
        },
        scales: {
            x: {
                type: 'linear',
                min: 0,
                max: 384,
                afterBuildTicks: function (scale) {
                    scale.ticks = dateTickHours.map(function (h) { return { value: h }; });
                },
                afterFit: function (scale) { scale.height = 44; },
                border: { display: false },
                grid: { drawOnChartArea: false, tickLength: 6, tickColor: '#000', tickWidth: 1.5 },
                ticks: {
                    autoSkip: false,
                    maxRotation: 0,
                    padding: 2,
                    font: { size: 15, lineHeight: 1.1 },
                    callback: function (value, index) {
                        return index === 0 ? [dateTickLabels[0], yearLabel] : dateTickLabels[index];
                    }
                }
            },
            y: {
                position: 'left',
                min: -30,
                max: 30,
                afterFit: function (scale) { scale.width = 92; },
                border: { display: false, dash: [2, 7] },
                grid: {
                    color: '#a8a8a8', lineWidth: 1.2,
                    tickColor: '#000', tickWidth: 1.5, tickLength: 6, tickBorderDash: []
                },
                ticks: { stepSize: 5, padding: 3, font: { size: 14 } }
            },
            y2: {
                position: 'right',
                min: 0,
                max: 2,
                afterFit: function (scale) { scale.width = 93; },
                border: { display: false },
                grid: { drawOnChartArea: false, tickColor: '#000', tickWidth: 1.5, tickLength: 5 },
                ticks: {
                    stepSize: 0.2,
                    padding: 3,
                    font: { size: 14 },
                    callback: function (v) { return String(Math.round(v * 10) / 10); }
                }
            }
        }
    },
    plugins: [decorPlugin]
});
</script>
</body>
</html>
